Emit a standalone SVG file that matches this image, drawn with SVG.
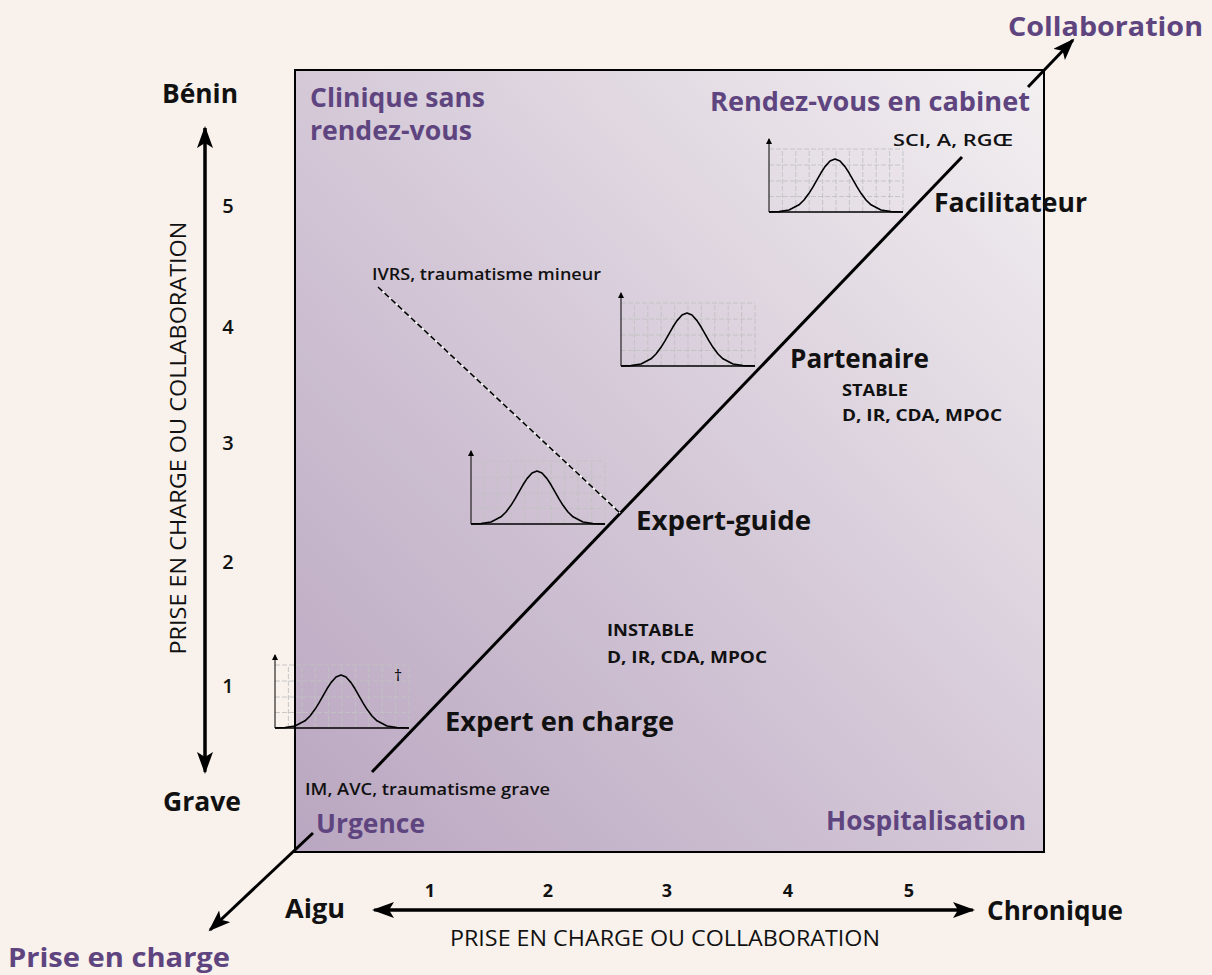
<svg xmlns="http://www.w3.org/2000/svg" xmlns:xlink="http://www.w3.org/1999/xlink" width="1212" height="975" viewBox="0 0 1212 975">
<style>
  text { font-family: "Open Sans", Lato, "Liberation Sans", sans-serif; }
  .big { font-size: 27px; font-weight: bold; fill: #111; }
  .purple { font-size: 27px; font-weight: bold; fill: #5f4580; }
  .small { font-size: 17px; font-weight: 600; fill: #111; }
  .tiny { font-size: 16px; font-weight: bold; fill: #111; }
  .num { font-size: 18px; font-weight: bold; fill: #111; }
  .lnum { font-size: 20px; font-weight: 600; fill: #111; }
  .axis { font-size: 21px; fill: #111; }
  .ln { stroke: #000; stroke-width: 3; fill: none; }
  .grid { stroke: #c2c2c2; stroke-width: 0.9; stroke-dasharray: 5 2; fill: none; }
</style>
<defs>
  <linearGradient id="bg" x1="0" y1="1" x2="1" y2="0">
    <stop offset="0" stop-color="#b9a6c0"/>
    <stop offset="0.5" stop-color="#d5c9d8"/>
    <stop offset="1" stop-color="#f3f0f1"/>
  </linearGradient>
  <marker id="arr" markerUnits="userSpaceOnUse" markerWidth="24" markerHeight="18" refX="20" refY="8" orient="auto">
    <path d="M0,0 L22,8 L0,16 L5,8 Z" fill="#000"/>
  </marker>
  <marker id="arrs" markerUnits="userSpaceOnUse" markerWidth="8" markerHeight="8" refX="5" refY="3" orient="auto">
    <path d="M0,0 L6,3 L0,6 Z" fill="#000"/>
  </marker>
  <g id="chart">
    <path class="grid" d="M0,-15.5 H134 M0,-31 H134 M0,-47 H134 M0,-63 H134 M13.4,0 V-63 M26.8,0 V-63 M40.2,0 V-63 M53.6,0 V-63 M67,0 V-63 M80.4,0 V-63 M93.8,0 V-63 M107.2,0 V-63 M120.6,0 V-63 M134,0 V-63"/>
    <path d="M0,0 V-73" stroke="#000" stroke-width="1" marker-end="url(#arrs)"/>
    <path d="M0,0 H134" stroke="#000" stroke-width="1.5"/>
    <path d="M0,0 L10,-0.4 L20,-2 L30,-7.2 L35,-12 L40,-18.7 L44,-25.1 L48,-32.2 L52,-39.2 L56,-45.4 L61,-51 L66,-53 L71,-51 L76,-45.4 L80,-39.2 L84,-32.2 L88,-25.1 L92,-18.7 L97,-12 L102,-7.2 L112,-2 L122,-0.4 L134,0" fill="none" stroke="#000" stroke-width="1.6" stroke-linejoin="round"/>
  </g>
</defs>
<rect x="0" y="0" width="1212" height="975" fill="#f8f1ec"/>
<g id="frame">
  <rect x="295" y="70" width="749" height="782" fill="url(#bg)"/>
</g>
<g id="charts">
  <use xlink:href="#chart" href="#chart" x="769" y="212"/>
  <use xlink:href="#chart" href="#chart" x="621" y="366"/>
  <use xlink:href="#chart" href="#chart" x="471" y="524"/>
  <use xlink:href="#chart" href="#chart" x="275" y="728"/>
</g>
<rect x="295" y="70" width="749" height="782" fill="none" stroke="#000" stroke-width="2"/>
<g id="connectors">
  <line class="ln" x1="313" y1="833" x2="210" y2="930" marker-end="url(#arr)"/>
  <line class="ln" x1="372" y1="772" x2="962" y2="157"/>
  <line class="ln" x1="1028" y1="87" x2="1073" y2="40" marker-end="url(#arr)"/>
  <line x1="378" y1="287" x2="620" y2="513" stroke="#fff" stroke-width="1.6"/>
  <line x1="378" y1="287" x2="620" y2="513" stroke="#000" stroke-width="1.6" stroke-dasharray="6 3"/>
  <line class="ln" x1="205" y1="760" x2="205" y2="128" stroke-width="2.5" marker-end="url(#arr)"/>
  <line class="ln" x1="205" y1="128" x2="205" y2="772" stroke-width="2.5" marker-end="url(#arr)"/>
  <line class="ln" x1="385" y1="910" x2="973" y2="910" stroke-width="2.5" marker-end="url(#arr)"/>
  <line class="ln" x1="960" y1="910" x2="374" y2="910" stroke-width="2.5" marker-end="url(#arr)"/>
</g>
<g id="corner-labels">
  <text class="purple" x="1008" y="36" font-size="29" textLength="195" lengthAdjust="spacingAndGlyphs">Collaboration</text>
  <text class="purple" x="710" y="111" textLength="320" lengthAdjust="spacingAndGlyphs">Rendez-vous en cabinet</text>
  <text class="purple" x="310" y="107" font-size="22" textLength="175" lengthAdjust="spacingAndGlyphs">Clinique sans</text>
  <text class="purple" x="310" y="140" font-size="22" textLength="162" lengthAdjust="spacingAndGlyphs">rendez-vous</text>
  <text class="purple" x="316" y="833" textLength="109" lengthAdjust="spacingAndGlyphs">Urgence</text>
  <text class="purple" x="826" y="830" textLength="200" lengthAdjust="spacingAndGlyphs">Hospitalisation</text>
  <text class="purple" x="8" y="967" font-size="29" textLength="222" lengthAdjust="spacingAndGlyphs">Prise en charge</text>
</g>
<g id="node-facilitateur">
  <text class="small" x="893" y="146" textLength="120" lengthAdjust="spacingAndGlyphs">SCI, A, RGŒ</text>
  <text class="big" x="934" y="212" textLength="153" lengthAdjust="spacingAndGlyphs">Facilitateur</text>
</g>
<g id="node-partenaire">
  <text class="big" x="790" y="368" textLength="139" lengthAdjust="spacingAndGlyphs">Partenaire</text>
  <text class="tiny" x="842" y="396" textLength="66" lengthAdjust="spacingAndGlyphs">STABLE</text>
  <text class="tiny" x="842" y="421" textLength="160" lengthAdjust="spacingAndGlyphs">D, IR, CDA, MPOC</text>
</g>
<g id="node-expert-guide">
  <text class="small" x="372" y="280" textLength="229" lengthAdjust="spacingAndGlyphs">IVRS, traumatisme mineur</text>
  <text class="big" x="636" y="530" textLength="175" lengthAdjust="spacingAndGlyphs">Expert-guide</text>
</g>
<g id="node-expert-en-charge">
  <text class="tiny" x="607" y="636" textLength="87" lengthAdjust="spacingAndGlyphs">INSTABLE</text>
  <text class="tiny" x="607" y="663" textLength="160" lengthAdjust="spacingAndGlyphs">D, IR, CDA, MPOC</text>
  <text x="398" y="681" text-anchor="middle" font-size="16" fill="#000">†</text>
  <text class="big" x="445" y="731" textLength="229" lengthAdjust="spacingAndGlyphs">Expert en charge</text>
  <text class="small" x="305" y="795" textLength="245" lengthAdjust="spacingAndGlyphs">IM, AVC, traumatisme grave</text>
</g>
<g id="vertical-axis">
  <text class="big" x="162" y="103" textLength="76" lengthAdjust="spacingAndGlyphs">Bénin</text>
  <text class="big" x="163" y="811" textLength="78" lengthAdjust="spacingAndGlyphs">Grave</text>
  <text class="lnum" x="228" y="213" text-anchor="middle">5</text>
  <text class="lnum" x="228" y="334" text-anchor="middle">4</text>
  <text class="lnum" x="228" y="450" text-anchor="middle">3</text>
  <text class="lnum" x="228" y="569" text-anchor="middle">2</text>
  <text class="lnum" x="228" y="693" text-anchor="middle">1</text>
  <text class="axis" transform="translate(186,438) rotate(-90)" text-anchor="middle" textLength="433" lengthAdjust="spacingAndGlyphs">PRISE EN CHARGE OU COLLABORATION</text>
</g>
<g id="horizontal-axis">
  <text class="big" x="285" y="918" textLength="60" lengthAdjust="spacingAndGlyphs">Aigu</text>
  <text class="big" x="987" y="920" textLength="136" lengthAdjust="spacingAndGlyphs">Chronique</text>
  <text class="num" x="430" y="897" text-anchor="middle">1</text>
  <text class="num" x="548" y="897" text-anchor="middle">2</text>
  <text class="num" x="667" y="897" text-anchor="middle">3</text>
  <text class="num" x="788" y="897" text-anchor="middle">4</text>
  <text class="num" x="909" y="897" text-anchor="middle">5</text>
  <text class="axis" x="665" y="946" text-anchor="middle" textLength="430" lengthAdjust="spacingAndGlyphs">PRISE EN CHARGE OU COLLABORATION</text>
</g>
</svg>
